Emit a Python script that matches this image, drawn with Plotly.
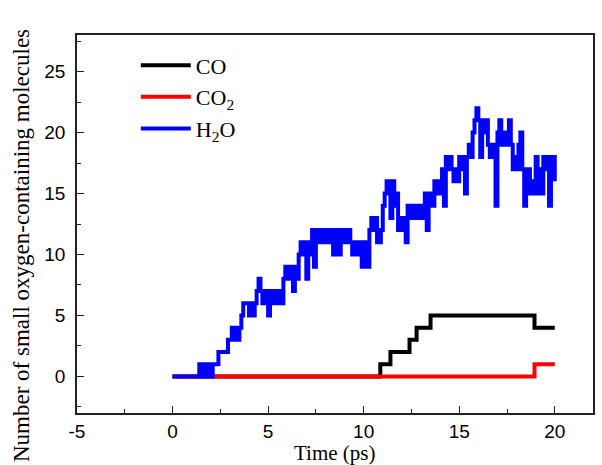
import plotly.graph_objects as go

# ---- data ----
h2o_time = [round(i * 0.1, 1) for i in range(201)]
h2o_values = [
    0, 0, 0, 0, 0, 0, 0, 0, 0, 0,            # 0.0-0.9
    0, 0, 0, 0, 1, 0, 1, 1, 0, 1,            # 1.0-1.9
    0, 1, 1, 1, 2, 2, 2, 2, 2, 3,            # 2.0-2.9
    3, 4, 3, 4, 3, 4, 5, 6, 6, 6,            # 3.0-3.9
    5, 6, 5, 6, 7, 8, 7, 6, 7, 6,            # 4.0-4.9
    5, 7, 6, 7, 7, 6, 7, 6, 8, 9,            # 5.0-5.9
    8, 9, 8, 7, 9, 8, 10, 11, 10, 11,        # 6.0-6.9
    8, 10, 11, 12, 9, 11, 12, 11, 12, 11,    # 7.0-7.9
    12, 11, 12, 12, 10, 12, 11, 10, 12, 11,  # 8.0-8.9
    12, 11, 12, 11, 10, 11, 10, 11, 10, 9,   # 9.0-9.9
    11, 10, 9, 12, 13, 12, 13, 11, 11, 12,   # 10.0-10.9
    14, 15, 16, 15, 13, 16, 14, 15, 12, 13,  # 11.0-11.9
    12, 13, 11, 14, 13, 14, 13, 14, 13, 14,  # 12.0-12.9
    13, 14, 15, 12, 14, 15, 14, 16, 15, 16,  # 13.0-13.9
    15, 17, 14, 18, 17, 18, 17, 16, 17, 16,  # 14.0-14.9
    18, 17, 18, 15, 18, 19, 18, 20, 21, 22,  # 15.0-15.9
    21, 18, 21, 20, 21, 19, 18, 19, 18, 14,  # 16.0-16.9
    20, 21, 19, 20, 19, 20, 21, 19, 17, 18,  # 17.0-17.9
    17, 19, 20, 17, 14, 16, 17, 15, 16, 15,  # 18.0-18.9
    18, 15, 17, 15, 18, 17, 18, 14, 17, 18,  # 19.0-19.9
    16,                                      # 20.0
]

co_time = [0, 10.87, 11.4, 12.4, 12.77, 13.5, 18.94, 20]
co_values = [0, 1, 2, 3, 4, 5, 4, 4]

co2_time = [0, 18.94, 20]
co2_values = [0, 1, 1]

series_names = ["CO", "CO<sub>2</sub>", "H<sub>2</sub>O"]
series_colors = ["#000000", "#ff0000", "#0000ff"]

x_tickvals = [-5, 0, 5, 10, 15, 20]
x_ticktext = ["-5", "0", "5", "10", "15", "20"]
y_tickvals = [0, 5, 10, 15, 20, 25]
y_ticktext = ["0", "5", "10", "15", "20", "25"]

fig = go.Figure()
for t, v, name, color in zip([co_time, co2_time, h2o_time],
                             [co_values, co2_values, h2o_values],
                             series_names, series_colors):
    fig.add_trace(go.Scatter(
        x=t, y=v, mode="lines", name=name,
        line=dict(color=color, width=4, shape="hv"),
    ))

axis_common = dict(
    showgrid=False, zeroline=False, automargin=False,
    showline=True, linecolor="#222222", linewidth=1.5, mirror=True,
    ticks="inside", ticklen=7, tickwidth=1.3, tickcolor="#222222",
    tickfont=dict(family="Liberation Sans, Arial", size=19, color="#000000"),
    minor=dict(ticks="inside", ticklen=4, tickwidth=1.2, tickcolor="#222222", dtick=2.5),
)

serif = "Liberation Serif, Times New Roman"

fig.update_layout(
    width=602, height=465,
    margin=dict(l=77, r=9, t=35, b=52),
    paper_bgcolor="white", plot_bgcolor="white",
    xaxis=dict(
        range=[-5, 22], tickvals=x_tickvals, ticktext=x_ticktext, ticklabelstandoff=0,
        **axis_common,
    ),
    yaxis=dict(
        range=[-3, 28], tickvals=y_tickvals, ticktext=y_ticktext, ticklabelstandoff=6,
        **axis_common,
    ),
    legend=dict(
        x=0.114, y=0.975, xanchor="left", yanchor="top",
        bgcolor="rgba(0,0,0,0)", itemwidth=50,
        font=dict(family=serif, size=22, color="#000000"),
        tracegroupgap=0,
    ),
    showlegend=True,
    annotations=[
        dict(
            text="Number of small oxygen-containing molecules",
            xref="paper", yref="paper", x=(22 - 77) / 516, y=(413 - 246) / 378,
            xanchor="center", yanchor="middle", textangle=-90, showarrow=False,
            font=dict(family=serif, size=23, color="#000000"),
        ),
        dict(
            text="Time (ps)",
            xref="paper", yref="paper", x=0.5, y=(413 - 453) / 378,
            xanchor="center", yanchor="middle", showarrow=False,
            font=dict(family=serif, size=21, color="#000000"),
        ),
    ],
)

fig.write_html("out.html")
